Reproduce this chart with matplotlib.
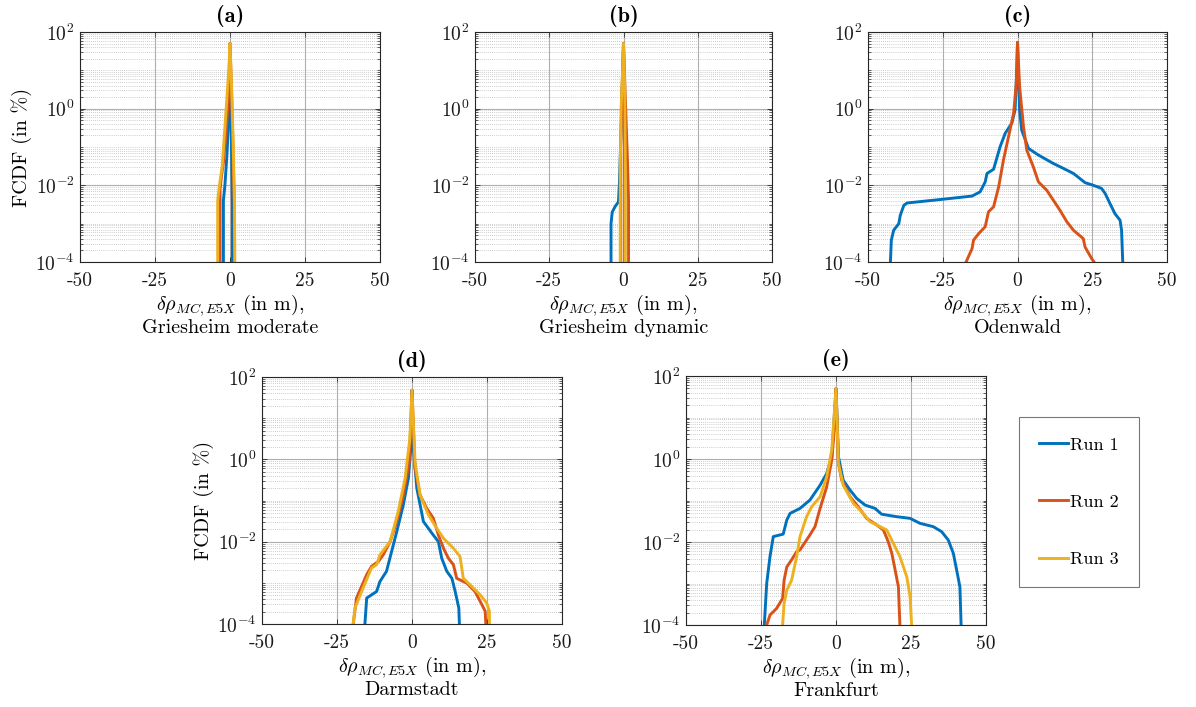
import numpy as np
import matplotlib
matplotlib.use("Agg")
import matplotlib.pyplot as plt
from matplotlib.ticker import FixedLocator, NullFormatter

plt.rcParams["font.family"] = "serif"
plt.rcParams["font.serif"] = ["cmr10", "DejaVu Serif"]
plt.rcParams["mathtext.fontset"] = "cm"
plt.rcParams["axes.formatter.use_mathtext"] = True
plt.rcParams["axes.unicode_minus"] = False

# ---- data: x = delta rho (m), y = log10(FCDF in %) ----
run_names = ["Run 1", "Run 2", "Run 3"]
run_colors = ["#0072BD", "#D95319", "#EDB120"]

panel_titles = ["(a)", "(b)", "(c)", "(d)", "(e)"]
scenarios = ["Griesheim moderate", "Griesheim dynamic", "Odenwald", "Darmstadt", "Frankfurt"]

x_ticks = [-50, -25, 0, 25, 50]
x_tick_labels = ["-50", "-25", "0", "25", "50"]
y_major_exp = [-4, -2, 0, 2]

# (a) Griesheim moderate
gm_run1_x = [-2.2, -2.2, -1.7, -1.1, -0.55, -0.2, 0.0, 0.3, 0.6, 0.8, 0.8]
gm_run1_y = [-4.0, -2.4, -2.0, -1.3, -0.5, 0.5, 1.7, 0.2, -1.5, -2.5, -4.0]
gm_run2_x = [-3.3, -3.3, -2.9, -2.2, -1.3, -0.5, 0.0, 0.5, 1.0, 1.4, 1.5]
gm_run2_y = [-4.0, -2.1, -1.8, -1.4, -0.6, 0.3, 1.7, 0.5, -1.0, -2.5, -4.0]
gm_run3_x = [-4.1, -4.1, -3.6, -2.6, -1.1, -0.4, 0.0, 0.6, 1.1, 1.5, 1.6]
gm_run3_y = [-4.0, -2.4, -2.05, -1.5, 0.2, 1.0, 1.7, 0.4, -1.0, -2.5, -4.0]

# (b) Griesheim dynamic
gd_run1_x = [-4.2, -4.2, -3.8, -2.8, -1.7, -1.4, -0.6, 0.0, 0.3, 0.4, 0.4]
gd_run1_y = [-4.0, -3.0, -2.7, -2.55, -2.43, -2.0, 0.0, 1.7, 0.0, -2.0, -4.0]
gd_run2_x = [-0.9, -0.9, -0.5, 0.0, 0.6, 1.4, 1.7, 1.7]
gd_run2_y = [-4.0, -1.0, 0.5, 1.7, 0.3, -1.5, -2.4, -4.0]
gd_run3_x = [-1.1, -1.1, -0.8, -0.3, 0.0, 0.4, 0.6, 0.6]
gd_run3_y = [-4.0, -1.5, 0.0, 1.0, 1.7, 0.5, -1.5, -4.0]

# (c) Odenwald
od_run1_x = [-42.5, -42.2, -41.4, -39.7, -39.2, -38.0, -36.9, -25.8, -15.2, -12.5, -10.8,
             -10.2, -8.0, -5.8, -4.1, -1.9, -0.8, -0.2, 0.0, 0.7, 1.4, 3.7, 7.0, 12.0,
             15.4, 18.7, 22.6, 25.4, 28.1, 29.3, 30.9, 32.6, 34.3, 34.8, 35.2]
od_run1_y = [-4.0, -3.43, -3.17, -3.0, -2.78, -2.52, -2.46, -2.37, -2.28, -2.17, -1.91,
             -1.69, -1.58, -0.99, -0.64, -0.38, -0.03, 1.1, 1.73, -0.03, -0.56, -1.04,
             -1.21, -1.43, -1.56, -1.69, -1.93, -2.0, -2.08, -2.21, -2.47, -2.74, -2.91,
             -3.17, -4.0]
od_run2_x = [-17.2, -15.2, -14.7, -13.0, -10.8, -9.7, -8.0, -6.3, -4.7, -3.0, -1.3, -0.4,
             0.0, 0.7, 2.0, 3.1, 5.3, 7.0, 9.8, 12.0, 14.2, 16.5, 18.7, 22.0, 22.6, 24.8, 25.6]
od_run2_y = [-4.0, -3.65, -3.43, -3.26, -3.08, -2.69, -2.56, -2.04, -1.34, -0.73, -0.12, 0.66,
             1.73, 0.58, -0.47, -1.08, -1.52, -1.91, -2.13, -2.39, -2.65, -2.95, -3.17, -3.39,
             -3.61, -3.91, -4.0]
od_run3_x = []
od_run3_y = []

# (d) Darmstadt
da_run1_x = [-15.7, -15.1, -11.8, -10.7, -8.5, -6.8, -5.1, -2.9, -1.2, -0.3, 0.0, 0.4, 1.6,
             3.8, 7.1, 8.8, 9.9, 11.6, 13.3, 14.4, 15.6, 15.8]
da_run1_y = [-4.0, -3.37, -3.21, -2.97, -2.72, -2.24, -1.76, -1.11, -0.46, 0.35, 1.68, 0.35,
             -0.7, -1.51, -1.84, -2.0, -2.4, -2.72, -2.89, -3.21, -3.61, -4.0]
da_run2_x = [-19.6, -18.5, -15.1, -13.5, -11.2, -9.6, -7.3, -5.1, -2.9, -0.9, 0.0, 1.0, 2.7,
             4.9, 7.1, 8.8, 10.5, 12.1, 13.8, 14.9, 18.3, 21.0, 23.3, 24.4, 24.6]
da_run2_y = [-4.0, -3.37, -2.8, -2.6, -2.48, -2.32, -2.0, -1.51, -0.87, -0.06, 1.68, -0.22,
             -0.87, -1.19, -1.43, -1.84, -2.16, -2.4, -2.56, -2.89, -3.01, -3.21, -3.53,
             -3.69, -4.0]
da_run3_x = [-19.6, -19.0, -16.8, -13.5, -11.8, -10.7, -7.3, -4.6, -2.3, -0.7, 0.0, 1.0, 2.7,
             5.5, 8.2, 10.5, 13.8, 16.0, 17.1, 19.4, 22.7, 24.9, 25.8, 25.8]
da_run3_y = [-4.0, -3.61, -3.21, -2.64, -2.56, -2.32, -2.0, -1.27, -0.46, 0.51, 1.68, -0.06,
             -0.87, -1.35, -1.67, -1.92, -2.16, -2.36, -2.89, -3.05, -3.29, -3.49, -3.69, -4.0]

# (e) Frankfurt
ff_run1_x = [-23.9, -23.1, -22.0, -20.9, -17.6, -16.4, -15.3, -12.0, -8.7, -5.3, -3.1, -1.4,
             0.0, 0.8, 2.4, 4.7, 6.9, 9.7, 13.0, 15.2, 20.2, 24.7, 28.0, 32.4, 35.2, 37.4,
             39.1, 40.2, 41.3, 41.7]
ff_run1_y = [-4.0, -3.0, -2.35, -1.87, -1.81, -1.47, -1.31, -1.19, -0.99, -0.63, -0.35, 0.06,
             1.7, 0.06, -0.51, -0.75, -0.95, -1.11, -1.19, -1.33, -1.39, -1.43, -1.55, -1.63,
             -1.75, -1.95, -2.27, -2.67, -3.08, -4.0]
ff_run2_x = [-23.1, -22.0, -19.8, -17.8, -17.3, -16.4, -14.8, -13.1, -12.0, -8.7, -7.0, -5.3,
             -3.1, -1.4, -0.3, 0.0, 0.8, 1.9, 4.7, 7.4, 10.2, 13.6, 15.8, 17.4, 18.6, 19.7,
             20.8, 21.3]
ff_run2_y = [-4.0, -3.76, -3.6, -3.36, -2.92, -2.6, -2.43, -2.23, -2.19, -1.83, -1.63, -1.19,
             -0.67, -0.02, 0.94, 1.7, -0.1, -0.51, -0.91, -1.15, -1.43, -1.59, -1.71, -1.99,
             -2.27, -2.67, -3.08, -4.0]
ff_run3_x = [-17.8, -17.3, -16.4, -14.8, -13.1, -12.0, -9.8, -8.1, -5.3, -3.1, -1.4, 0.0, 0.8,
             2.4, 5.8, 9.1, 11.3, 14.7, 16.9, 19.1, 21.3, 23.6, 24.7, 25.2]
ff_run3_y = [-4.0, -3.48, -3.16, -2.92, -2.35, -1.87, -1.39, -1.15, -0.91, -0.43, 0.22, 1.7,
             -0.1, -0.63, -1.07, -1.31, -1.51, -1.63, -1.71, -2.03, -2.35, -2.84, -3.32, -4.0]

panel_data = [
    [(gm_run1_x, gm_run1_y), (gm_run2_x, gm_run2_y), (gm_run3_x, gm_run3_y)],
    [(gd_run1_x, gd_run1_y), (gd_run2_x, gd_run2_y), (gd_run3_x, gd_run3_y)],
    [(od_run1_x, od_run1_y), (od_run2_x, od_run2_y), (od_run3_x, od_run3_y)],
    [(da_run1_x, da_run1_y), (da_run2_x, da_run2_y), (da_run3_x, da_run3_y)],
    [(ff_run1_x, ff_run1_y), (ff_run2_x, ff_run2_y), (ff_run3_x, ff_run3_y)],
]

# ---- figure ----
W, H = 1196, 707
fig = plt.figure(figsize=(W / 100, H / 100), dpi=100)

# axes boxes in pixels: left, top, right, bottom
boxes = [
    (80, 32, 380, 262),
    (475, 32, 772, 262),
    (868, 32, 1167, 262),
    (262, 377, 562, 624),
    (686, 376, 986, 625),
]

def px_axes(l, t, r, b):
    return fig.add_axes([l / W, 1 - b / H, (r - l) / W, (b - t) / H])

minor_locs = []
for e in range(-4, 2):
    for m in range(1, 10):
        v = m * 10.0 ** e
        if m == 1 and e in y_major_exp:
            continue
        minor_locs.append(v)

lines = []
for i, box in enumerate(boxes):
    ax = px_axes(*box)
    ax.set_yscale("log")
    ax.set_xlim(-50, 50)
    ax.set_ylim(1e-4, 1e2)

    ax.yaxis.set_major_locator(FixedLocator([10.0 ** e for e in y_major_exp]))
    ax.set_yticklabels([r"$10^{%d}$" % e for e in y_major_exp])
    ax.yaxis.set_minor_locator(FixedLocator(minor_locs))
    ax.yaxis.set_minor_formatter(NullFormatter())
    ax.set_xticks(x_ticks)
    ax.set_xticklabels(x_tick_labels)

    ax.grid(True, which="major", color="#9a9a9a", linewidth=0.8, alpha=0.8)
    ax.grid(True, which="minor", axis="y", color="#b5b5b5", linewidth=0.6,
            linestyle=(0, (1, 1.5)), alpha=0.9)
    ax.set_axisbelow(True)

    ax.tick_params(which="both", direction="in", top=True, right=True,
                   colors="#262626", labelcolor="#1a1a1a", labelsize=14)
    ax.tick_params(which="major", length=3.5, width=0.6)
    ax.tick_params(axis="x", which="major", pad=7)
    ax.tick_params(axis="y", which="major", pad=4)
    ax.tick_params(which="minor", length=2, width=0.5)
    for s in ax.spines.values():
        s.set_color("#262626")
        s.set_linewidth(0.8)

    for k, (xs, ys) in enumerate(panel_data[i]):
        if len(xs) == 0:
            continue
        ln, = ax.plot(xs, np.power(10.0, ys), color=run_colors[k], linewidth=2.1,
                      label=run_names[k], solid_joinstyle="round")
        if i == 4:
            lines.append(ln)

    ax.set_title(panel_titles[i], fontsize=16, fontfamily="cmb10", pad=7)
    ax.set_xlabel(r"$\delta\rho_{MC,E5X}$ (in m)," + "\n" + scenarios[i],
                  fontsize=14.5, labelpad=2, linespacing=1.05)
    if i in (0, 3):
        ax.set_ylabel("FCDF (in %)", fontsize=14.5, labelpad=2)

# legend box
leg = fig.legend(handles=lines, labels=run_names, loc="upper left",
                 bbox_to_anchor=(1019 / W, 1 - 417 / H), fontsize=13,
                 frameon=True, fancybox=False, edgecolor="#555555",
                 handlelength=1.6, handletextpad=0.15, labelspacing=2.3,
                 borderpad=1.1, borderaxespad=0)
leg.get_frame().set_linewidth(0.8)

fig.savefig("out.png", dpi=100, facecolor="white")
